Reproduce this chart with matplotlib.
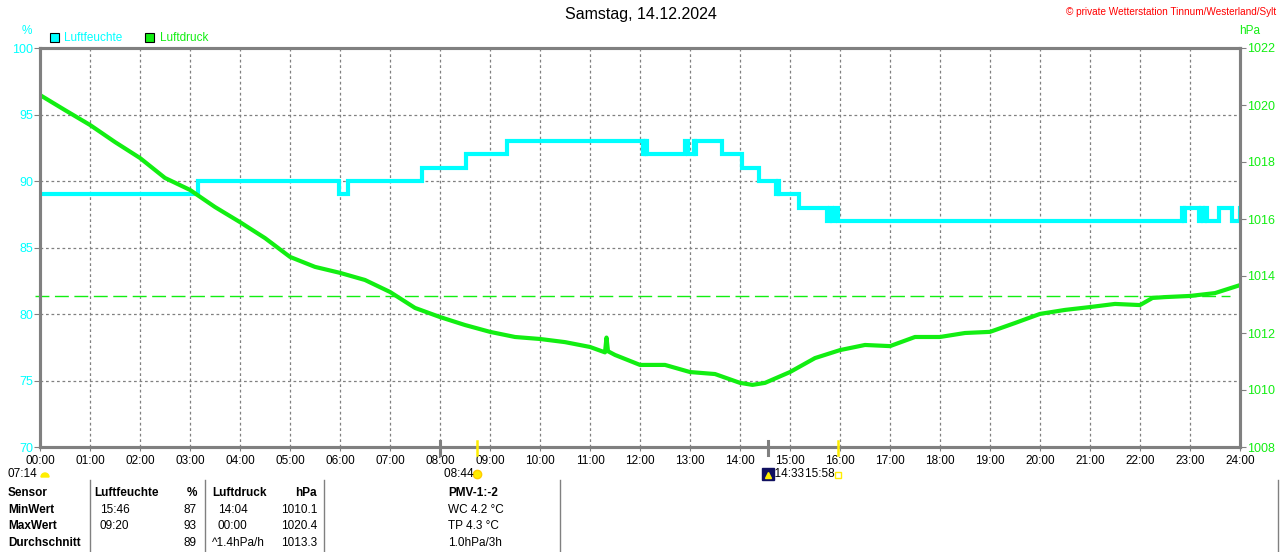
import matplotlib
matplotlib.use('Agg')
import matplotlib.pyplot as plt
import matplotlib.transforms as mtransforms
from matplotlib.patches import Rectangle, Wedge

plt.rcParams['font.family'] = ['Liberation Sans', 'DejaVu Sans']

# Luftfeuchte (%): change times in hours and the level from that time on
hum_t = [0, 3.16, 5.97, 6.15, 7.63, 8.52, 9.33, 12.05, 12.07, 12.09, 12.11, 12.14,
         12.90, 12.95, 13.07, 13.09, 13.11, 13.63, 14.03, 14.37, 14.72, 14.75, 14.78,
         15.18, 15.74, 15.79, 15.84, 15.89, 15.96, 22.83, 22.87, 22.90, 23.17, 23.21,
         23.25, 23.29, 23.33, 23.57, 23.83, 24.0]
hum_v = [89, 90, 89, 90, 91, 92, 93, 92, 93, 92, 93, 92,
         93, 92, 93, 92, 93, 92, 91, 90, 89, 90, 89,
         88, 87, 88, 87, 88, 87, 88, 87, 88, 87, 88,
         87, 88, 87, 88, 87, 88]

# Luftdruck (hPa)
press_t = [0, 0.5, 1, 1.5, 2, 2.5, 3, 3.5, 4, 4.5, 5, 5.5, 6, 6.5, 7, 7.5, 8, 8.5,
           9, 9.5, 10, 10.5, 11, 11.3, 11.33, 11.36, 11.5, 12, 12.5, 13, 13.5, 14,
           14.25, 14.5, 15, 15.5, 16, 16.5, 17, 17.5, 18, 18.5, 19, 19.5, 20, 20.5,
           21, 21.5, 22, 22.25, 22.5, 23, 23.5, 24]
press_v = [1020.35, 1019.82, 1019.30, 1018.70, 1018.14, 1017.44, 1017.02, 1016.42,
           1015.89, 1015.33, 1014.67, 1014.32, 1014.11, 1013.86, 1013.44, 1012.88,
           1012.56, 1012.28, 1012.04, 1011.86, 1011.79, 1011.68, 1011.51, 1011.32,
           1011.84, 1011.36, 1011.23, 1010.88, 1010.88, 1010.63, 1010.56, 1010.25,
           1010.18, 1010.25, 1010.63, 1011.12, 1011.40, 1011.58, 1011.54, 1011.86,
           1011.86, 1012.00, 1012.04, 1012.35, 1012.67, 1012.81, 1012.91, 1013.02,
           1012.98, 1013.23, 1013.26, 1013.30, 1013.40, 1013.68]
press_mean = 1013.3

hours = list(range(25))
hour_labels = ['%02d:00' % h for h in hours]
hum_ticks = [70, 75, 80, 85, 90, 95, 100]
press_ticks = [1008, 1010, 1012, 1014, 1016, 1018, 1020, 1022]

# sun / moon events (hours)
sunrise = 8 + 44 / 60
sunset = 15 + 58 / 60
moonrise = 14 + 33 / 60
moon_mark = 8.0

table_rows = [
    ['Sensor', 'Luftfeuchte', '%', 'Luftdruck', 'hPa', 'PMV-1:-2'],
    ['MinWert', '15:46', '87', '14:04', '1010.1', 'WC 4.2 °C'],
    ['MaxWert', '09:20', '93', '00:00', '1020.4', 'TP 4.3 °C'],
    ['Durchschnitt', '', '89', '^1.4hPa/h', '1013.3', '1.0hPa/3h'],
]

CYAN = '#00ffff'
GREEN = '#12ee12'
GREY = '#808080'
YELLOW = '#ffee00'

fig = plt.figure(figsize=(12.8, 5.52), dpi=100)
W, H = 1280, 552
ax = fig.add_axes([40 / W, 1 - 447 / H, 1200 / W, 399 / H])
ax2 = ax.twinx()

ax.set_xlim(0, 24)
ax.set_ylim(70, 100)
ax2.set_ylim(1008, 1022)

for a in (ax, ax2):
    for s in a.spines.values():
        s.set_color(GREY)
        s.set_linewidth(2.2)

ax.set_xticks(hours)
ax.set_xticklabels(hour_labels, fontsize=8.5)
ax.set_yticks(hum_ticks)
ax.set_yticklabels([str(v) for v in hum_ticks], fontsize=9, color=CYAN)
ax.tick_params(axis='x', length=3, color=GREY, pad=3)
ax.tick_params(axis='y', length=4, color=GREY, pad=1)
ax2.set_yticks(press_ticks)
ax2.set_yticklabels([str(v) for v in press_ticks], fontsize=9, color=GREEN)
ax2.tick_params(axis='y', length=4, color=GREY, pad=1)

ax.grid(True, color=GREY, linestyle=(0, (2.2, 2.2)), linewidth=0.9)

ax.step(hum_t, hum_v, where='post', color=CYAN, linewidth=3, solid_joinstyle='miter')
ax2.plot(press_t, press_v, color=GREEN, linewidth=3.0)
ax2.plot([-0.1, 23.8], [press_mean, press_mean], color=GREEN, linewidth=1,
         linestyle=(0, (10, 4)), clip_on=False)

# overlay in pixel coordinates for texts and table
ov = fig.add_axes([0, 0, 1, 1], zorder=5)
ov.set_xlim(0, W)
ov.set_ylim(H, 0)
ov.axis('off')

ov.text(641, 15, 'Samstag, 14.12.2024', ha='center', va='center', fontsize=11.5)
ov.text(1276, 12, '© private Wetterstation Tinnum/Westerland/Sylt', ha='right',
        va='center', fontsize=7.2, color='#ff0000')
ov.text(27, 31, '%', ha='center', va='center', fontsize=8.5, color=CYAN)
ov.text(1250, 31, 'hPa', ha='center', va='center', fontsize=8.5, color=GREEN)

# legend
ov.add_patch(Rectangle((50, 33), 9, 9, facecolor=CYAN, edgecolor='black', linewidth=0.8))
ov.text(64, 38, 'Luftfeuchte', va='center', fontsize=8.5, color=CYAN)
ov.add_patch(Rectangle((145, 33), 9, 9, facecolor=GREEN, edgecolor='black', linewidth=0.8))
ov.text(160, 38, 'Luftdruck', va='center', fontsize=8.5, color=GREEN)

# sun and moon marks on the time axis
tr = mtransforms.blended_transform_factory(ax.transData, ov.transData)
for t in (sunrise, sunset):
    ov.plot([t, t], [441, 455], color=YELLOW, linewidth=1.8, transform=tr, clip_on=False)
for t in (moon_mark, moonrise):
    ov.plot([t, t], [441, 455], color=GREY, linewidth=2.2, transform=tr, clip_on=False)

ov.text(8, 474, '07:14', va='center', fontsize=8.5)
ov.add_patch(Wedge((45, 477), 4, 180, 360, color=YELLOW))
ov.text(sunrise, 474, '08:44 ', ha='right', va='center', fontsize=8.5, transform=tr)
ov.plot([sunrise], [474], marker='o', markersize=6, color=YELLOW, transform=tr,
        markeredgecolor='#ffcc00')
ov.plot([moonrise], [474], marker='s', markersize=8, color='#101060', transform=tr)
ov.plot([moonrise], [475], marker='^', markersize=4, color=YELLOW, transform=tr)
ov.text(moonrise, 474, '  14:33', ha='left', va='center', fontsize=8.5, transform=tr)
ov.text(sunset, 474, '15:58 ', ha='right', va='center', fontsize=8.5, transform=tr)
ov.plot([sunset], [475], marker='s', markersize=4, markerfacecolor='white',
        markeredgecolor=YELLOW, transform=tr)

# table
for x in (90, 205, 324, 560, 1278):
    ov.plot([x, x], [480, 552], color=GREY, linewidth=1)
col_x = [8, 100, 197, 218, 317, 448]
col_ha = ['left', 'left', 'right', 'left', 'right', 'left']
row_y = [493, 510, 526, 543]
for r, row in enumerate(table_rows):
    for c, txt in enumerate(row):
        x = col_x[c]
        if r == 0 and c in (1, 3):
            x -= 6
        if r == 3 and c == 3:
            x = 212
        bold = (r == 0) or (c == 0)
        ov.text(x, row_y[r], txt, ha=col_ha[c], va='center', fontsize=8.5,
                fontweight='bold' if bold else 'normal')

fig.savefig('out.png', dpi=100, facecolor='white')
